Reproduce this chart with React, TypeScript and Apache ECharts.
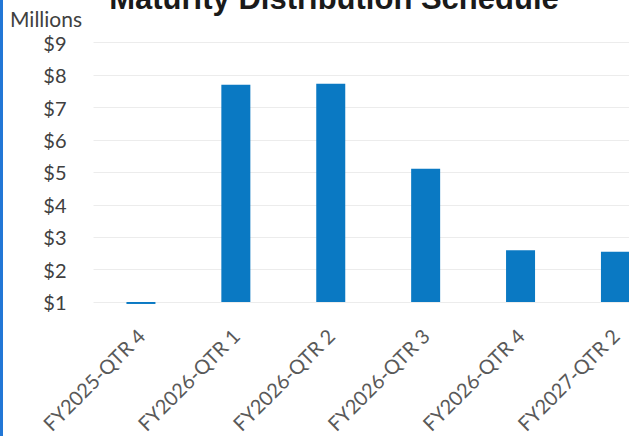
import React, { useEffect, useRef } from "react";
import * as echarts from "echarts";

const categories = [
  "FY2025-QTR 4",
  "FY2026-QTR 1",
  "FY2026-QTR 2",
  "FY2026-QTR 3",
  "FY2026-QTR 4",
  "FY2027-QTR 2",
];
const values = [0.94, 7.7, 7.73, 5.11, 2.6, 2.55];
const yMin = 1;
const yMax = 9;
const yStep = 1;
const titleText = "Maturity Distribution Schedule";
const unitText = "Millions";

export default function App() {
  const ref = useRef<HTMLDivElement>(null);
  useEffect(() => {
    if (!ref.current) return;
    const chart = echarts.init(ref.current, null, { renderer: "svg" });
    chart.setOption({
      animation: false,
      backgroundColor: "#ffffff",
      grid: { left: 93.5, top: 42.7, width: 569.4, height: 266.3, containLabel: false },
      xAxis: {
        type: "category",
        data: categories,
        axisLine: { show: false },
        axisTick: { show: false },
        axisLabel: {
          rotate: 45,
          margin: 30,
          interval: 0,
          fontFamily: "Lato",
          fontSize: 20,
          color: "#595959",
        },
      },
      yAxis: {
        type: "value",
        min: yMin,
        max: yMax,
        interval: yStep,
        startValue: yMin,
        axisLine: { show: false },
        axisTick: { show: false },
        splitLine: { show: true, lineStyle: { color: "#ececec", width: 1 } },
        axisLabel: {
          margin: 27,
          fontFamily: "Lato",
          fontSize: 20,
          color: "#404040",
          formatter: (v: number) => "$" + v,
        },
      },
      series: [
        {
          type: "bar",
          data: values,
          barWidth: 29,
          clip: false,
          itemStyle: { color: "#0a79c3" },
        },
      ],
      graphic: [
        {
          type: "rect",
          left: 0,
          top: 0,
          shape: { x: 0, y: 0, width: 3, height: 436 },
          style: { fill: "#2277d6" },
        },
        {
          type: "text",
          x: 10,
          y: 18,
          style: {
            text: unitText,
            fontFamily: "Lato",
            fontSize: 21,
            fill: "#404040",
            verticalAlign: "middle",
            align: "left",
          },
        },
        {
          type: "text",
          x: 334,
          y: -2,
          style: {
            text: titleText,
            fontFamily: "Liberation Sans",
            fontWeight: "bold",
            fontSize: 31,
            fill: "#1a1a1a",
            verticalAlign: "middle",
            align: "center",
          },
        },
      ],
    });
    return () => chart.dispose();
  }, []);
  return (
    <div style={{ position: "absolute", left: 0, top: 0, width: 629, height: 436, overflow: "hidden", background: "#fff" }}>
      <div ref={ref} style={{ width: 700, height: 436 }} />
    </div>
  );
}
